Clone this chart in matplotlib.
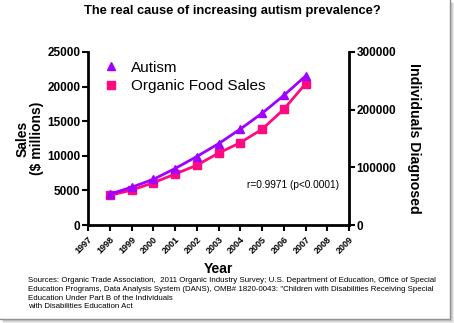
import matplotlib
matplotlib.use("Agg")
import matplotlib.pyplot as plt
from matplotlib.lines import Line2D

plt.rcParams['font.family'] = ['Liberation Sans', 'DejaVu Sans']

years = [1998, 1999, 2000, 2001, 2002, 2003, 2004, 2005, 2006, 2007]
organic_sales = [4286, 5039, 6100, 7360, 8635, 10381, 11902, 13831, 16718, 20410]
autism_diagnosed = [53576, 65424, 79085, 97847, 118669, 140920, 166302, 193637, 224594, 258305]
year_ticks = list(range(1997, 2010))
sales_ticks = [0, 5000, 10000, 15000, 20000, 25000]
diag_ticks = [0, 100000, 200000, 300000]

PURPLE = '#A000FF'
PINK = '#FF0A80'

W, H = 454, 323
fig = plt.figure(figsize=(W / 100, H / 100), dpi=100)

# thumbnail frame: thin grey edge with a soft shadow on right and bottom
fig.add_artist(Line2D([449.5 / W, 449.5 / W], [4 / H, 1], transform=fig.transFigure,
                      color='#8a8a8a', lw=1.0))
fig.add_artist(Line2D([0, 449.5 / W], [4.5 / H, 4.5 / H], transform=fig.transFigure,
                      color='#8a8a8a', lw=1.0))
for off, c in [(1.5, '#b5b5b5'), (2.5, '#d2d2d2'), (3.5, '#e8e8e8')]:
    fig.add_artist(Line2D([(449.5 + off) / W] * 2, [(4 - off) / H, 1 - 3 / H],
                          transform=fig.transFigure, color=c, lw=1.0))
    fig.add_artist(Line2D([3 / W, (449.5 + off) / W], [(4.5 - off) / H] * 2,
                          transform=fig.transFigure, color=c, lw=1.0))

left, right, bottom, top = 88, 349, 225, 52
ax = fig.add_axes([left / W, 1 - bottom / H, (right - left) / W, (bottom - top) / H])
ax2 = ax.twinx()

ax.plot(years, organic_sales, color=PINK, lw=2, marker='s', ms=5.5,
        label='Organic Food Sales', zorder=3)
ax2.plot(years, autism_diagnosed, color=PURPLE, lw=2, marker='^', ms=5.5,
         label='Autism', zorder=4)

ax.set_xlim(1997, 2009)
ax.set_ylim(0, 25000)
ax2.set_ylim(0, 300000)
ax.set_xticks(year_ticks)
ax.set_xticklabels([str(y) for y in year_ticks], rotation=45, ha='right',
                   rotation_mode='anchor', fontsize=6.5, fontweight='bold')
ax.set_yticks(sales_ticks)
ax.set_yticklabels([str(v) for v in sales_ticks], fontsize=8.5, fontweight='bold')
ax2.set_yticks(diag_ticks)
ax2.set_yticklabels([str(v) for v in diag_ticks], fontsize=8.5, fontweight='bold')

for a in (ax, ax2):
    a.spines['top'].set_visible(False)
    for s in ('left', 'right', 'bottom'):
        a.spines[s].set_linewidth(2)
    a.tick_params(length=4, width=1.5, pad=1.5)
    a.set_facecolor('none')
ax.spines['right'].set_visible(False)
ax2.spines['left'].set_visible(False)
ax2.spines['bottom'].set_visible(False)
ax.tick_params(axis='x', pad=3)

ax.set_xlabel('Year', fontsize=10, fontweight='bold', labelpad=5)
ax.set_ylabel('Sales\n($ millions)', fontsize=10, fontweight='bold', labelpad=2,
              linespacing=1.1)
ax2.set_ylabel('Individuals Diagnosed', fontsize=10.2, fontweight='bold',
               rotation=270, labelpad=18)

handles = [ax2.get_lines()[0], ax.get_lines()[0]]
leg = ax.legend(handles, [h.get_label() for h in handles], loc='upper left',
                bbox_to_anchor=(0.035, 0.985), frameon=False, fontsize=11,
                handlelength=1.0, handletextpad=0.8, labelspacing=0.3,
                borderaxespad=0)
for h in leg.legend_handles:
    h.set_linestyle('None')

ax.text(0.609, 0.23, 'r=0.9971 (p<0.0001)', transform=ax.transAxes,
        fontsize=7.3, ha='left', va='center')

fig.text(232 / W, 1 - 11 / H, 'The real cause of increasing autism prevalence?',
         fontsize=9.3, fontweight='bold', ha='center', va='center')

sources = ('Sources: Organic Trade Association,  2011 Organic Industry Survey; U.S. Department of Education, Office of Special\n'
           'Education Programs, Data Analysis System (DANS), OMB# 1820-0043: "Children with Disabilities Receiving Special\n'
           'Education Under Part B of the Individuals\n'
           'with Disabilities Education Act')
fig.text(28 / W, 1 - 277.5 / H, sources, fontsize=5.7, ha='left', va='top', linespacing=1.3)

fig.savefig('out.png', dpi=100)
